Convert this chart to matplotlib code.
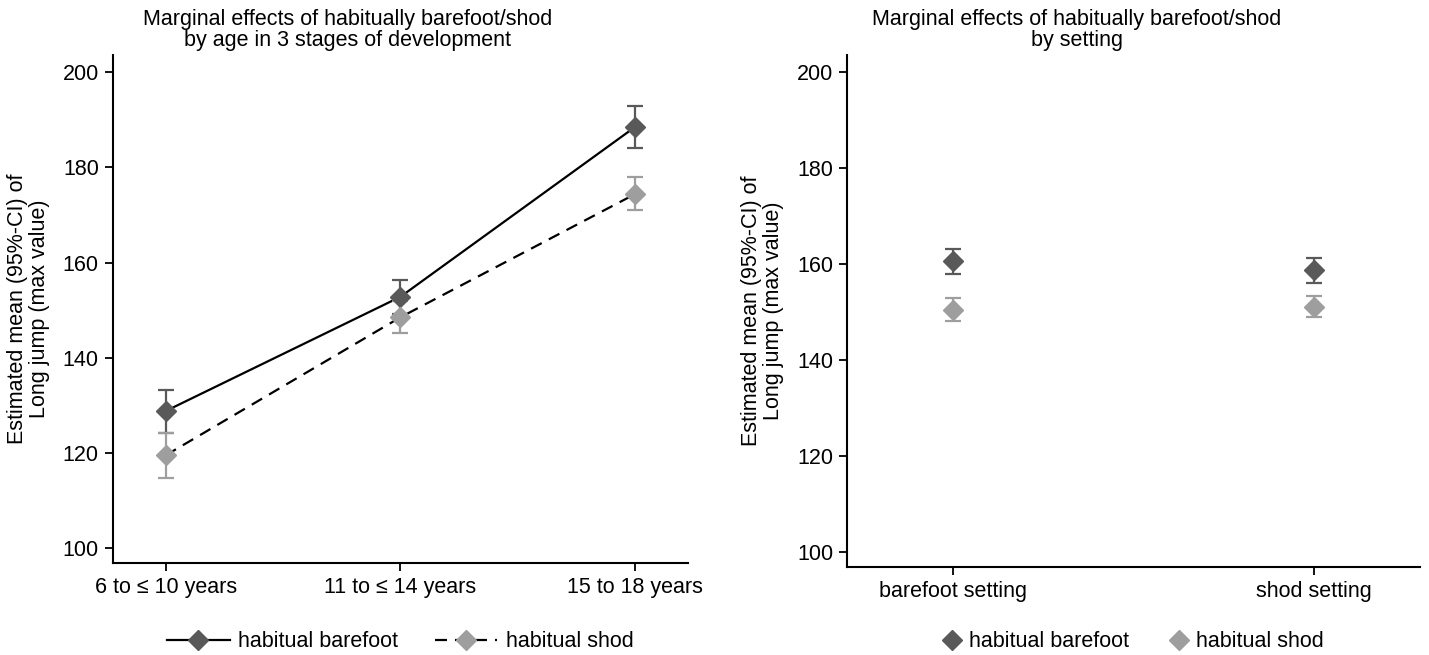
import numpy as np
import matplotlib
matplotlib.use('Agg')
import matplotlib.pyplot as plt
from matplotlib.lines import Line2D

plt.rcParams['font.family'] = ['Liberation Sans', 'DejaVu Sans']

# left panel: by age group
age_labels = ['6 to \u2264 10 years', '11 to \u2264 14 years', '15 to 18 years']
age_bare = [128.8, 152.8, 188.5]
age_bare_lo = [124.2, 149.1, 184.0]
age_bare_hi = [133.3, 156.4, 192.8]
age_shod = [119.5, 148.5, 174.4]
age_shod_lo = [114.8, 145.2, 171.1]
age_shod_hi = [124.1, 151.9, 177.9]

# right panel: by setting
set_labels = ['barefoot setting', 'shod setting']
set_bare = [160.6, 158.7]
set_bare_lo = [158.0, 156.1]
set_bare_hi = [163.2, 161.3]
set_shod = [150.5, 151.1]
set_shod_lo = [148.2, 148.9]
set_shod_hi = [152.9, 153.4]

dark = '#595959'
light = '#9e9e9e'
fs = 15.5
ms = 10.5


def style_axes(ax):
    ax.spines['top'].set_visible(False)
    ax.spines['right'].set_visible(False)
    ax.spines['left'].set_linewidth(1.5)
    ax.spines['bottom'].set_linewidth(1.5)
    ax.tick_params(axis='both', direction='out', length=6, width=1.3,
                   labelsize=fs, pad=4)
    ax.set_ylim(96.9, 203.6)
    ax.set_yticks([100, 120, 140, 160, 180, 200])
    ax.set_ylabel('Estimated mean (95%-CI) of\nLong jump (max value)', fontsize=fs,
                  linespacing=1.05, va='center')
    ax.yaxis.set_label_coords(-0.147, 0.5)


def errs(vals, lo, hi):
    v = np.array(vals)
    return [v - np.array(lo), np.array(hi) - v]


fig = plt.figure(figsize=(14.29, 6.55), dpi=100)
ax1 = fig.add_axes([0.0789, 0.1405, 0.4026, 0.7756])
ax2 = fig.add_axes([0.5927, 0.1344, 0.4010, 0.7817])

# ---- left
x1 = np.arange(1, len(age_labels) + 1)
ax1.plot(x1, age_bare, color='black', lw=1.6, ls='-', zorder=2)
ax1.plot(x1, age_shod, color='black', lw=1.6, ls=(0, (5.4, 3.6)), zorder=2)
ax1.errorbar(x1, age_bare, yerr=errs(age_bare, age_bare_lo, age_bare_hi),
             fmt='none', ecolor=dark, elinewidth=1.6, capsize=5.5, capthick=1.6, zorder=3)
ax1.errorbar(x1, age_shod, yerr=errs(age_shod, age_shod_lo, age_shod_hi),
             fmt='none', ecolor=light, elinewidth=1.6, capsize=5.5, capthick=1.6, zorder=3)
ax1.plot(x1, age_bare, ls='none', marker='D', ms=ms, mfc=dark, mec=dark, zorder=4)
ax1.plot(x1, age_shod, ls='none', marker='D', ms=ms, mfc=light, mec=light, zorder=4)
style_axes(ax1)
ax1.set_xlim(0.775, 3.225)
ax1.set_xticks(x1)
ax1.set_xticklabels(age_labels)

h1 = [Line2D([], [], color='black', lw=1.6, marker='D', ms=ms, mfc=dark, mec=dark),
      Line2D([], [], color='black', lw=1.6, ls=(0, (5.4, 3.6)), marker='D', ms=ms,
             mfc=light, mec=light)]
ax1.legend(h1, ['habitual barefoot', 'habitual shod'], loc='center',
           bbox_to_anchor=(0.5, -0.155), ncol=2, frameon=False, fontsize=fs,
           handlelength=2.9, columnspacing=1.7, handletextpad=0.4)

# ---- right
x2 = np.arange(1, len(set_labels) + 1)
ax2.errorbar(x2, set_bare, yerr=errs(set_bare, set_bare_lo, set_bare_hi),
             fmt='none', ecolor=dark, elinewidth=1.6, capsize=5.5, capthick=1.6, zorder=3)
ax2.errorbar(x2, set_shod, yerr=errs(set_shod, set_shod_lo, set_shod_hi),
             fmt='none', ecolor=light, elinewidth=1.6, capsize=5.5, capthick=1.6, zorder=3)
ax2.plot(x2, set_bare, ls='none', marker='D', ms=ms, mfc=dark, mec=dark, zorder=4)
ax2.plot(x2, set_shod, ls='none', marker='D', ms=ms, mfc=light, mec=light, zorder=4)
style_axes(ax2)
ax2.set_xlim(0.705, 2.295)
ax2.set_xticks(x2)
ax2.set_xticklabels(set_labels)

h2 = [Line2D([], [], ls='none', marker='D', ms=ms, mfc=dark, mec=dark),
      Line2D([], [], ls='none', marker='D', ms=ms, mfc=light, mec=light)]
ax2.legend(h2, ['habitual barefoot', 'habitual shod'], loc='center',
           bbox_to_anchor=(0.5, -0.146), ncol=2, frameon=False, fontsize=fs,
           handlelength=0.8, columnspacing=1.9, handletextpad=0.4)

# titles
fig.text(348 / 1429, 1 - 30 / 655, 'Marginal effects of habitually barefoot/shod\nby age in 3 stages of development',
         ha='center', va='center', fontsize=fs, linespacing=1.05)
fig.text(1077 / 1429, 1 - 30 / 655, 'Marginal effects of habitually barefoot/shod\nby setting',
         ha='center', va='center', fontsize=fs, linespacing=1.05)

fig.savefig('out.png', dpi=100)
